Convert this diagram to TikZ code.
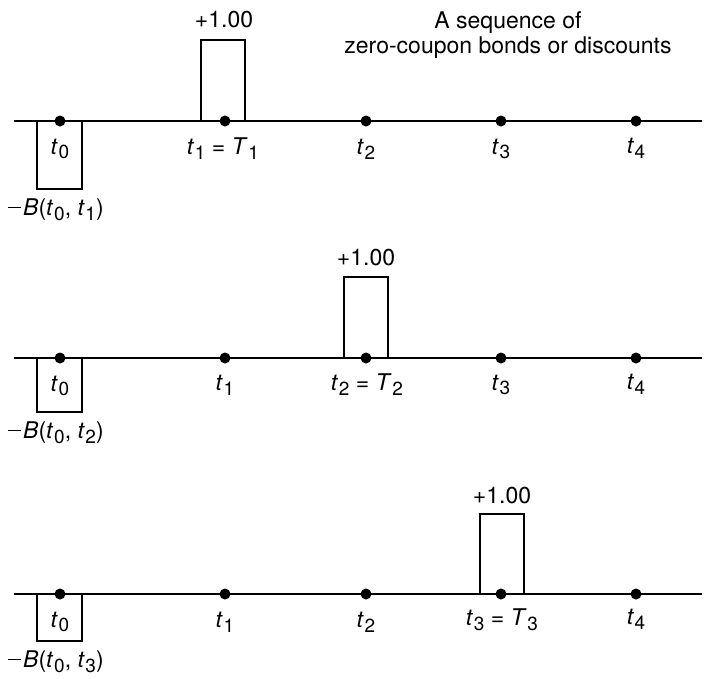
\documentclass[tikz,border=0pt]{standalone}
\usepackage{fontspec}
\setmainfont{TeX Gyre Heros}
\newcommand\tv[2]{\textit{#1}\kern0.03em\raisebox{-0.4ex}{\fontsize{19}{19}\selectfont #2}}
\newcommand\negsign{\rule[0.32em]{0.55em}{0.06em}\kern0.1em}
\begin{document}
\begin{tikzpicture}[x=1pt,y=-1pt,
  axis/.style={line width=1.6pt},
  flow/.style={line width=1.8pt},
  dot/.style={circle,fill=black,inner sep=0pt,minimum size=11pt},
  lbl/.style={font=\fontsize{23}{25.5}\selectfont,inner sep=0pt,anchor=center}]
\useasboundingbox (0,0) rectangle (708,678);
% title
\node[lbl,align=center] (title) at (508,35) {A sequence of\\zero-coupon bonds or discounts};
% rows: line y values
\foreach \r/\y/\d/\k in {1/121/68/1,2/358/54/2,3/594/47/3}{
  \coordinate (L\r) at (14,\y);
  \coordinate (R\r) at (702,\y);
  \draw[axis] (L\r) -- (R\r);
  \node[dot] (d\r0) at (60,\y) {};
  \node[dot] (d\r1) at (225,\y) {};
  \node[dot] (d\r2) at (366,\y) {};
  \node[dot] (d\r3) at (501,\y) {};
  \node[dot] (d\r4) at (636,\y) {};
  % negative box
  \draw[flow] (37,\y) -- (37,\y+\d) -- (82,\y+\d) -- (82,\y);
  \node[lbl] (neg\r) at (56,\y+\d+21) {\negsign\textit{B}(\tv{t}{0}, \tv{t}{\k})};
  \node[lbl] (l\r0) at (60,\y+28) {\tv{t}{0}};
}
% row 1
\draw[flow] (201,121) -- (201,40) -- (245,40) -- (245,121);
\node[lbl] (p1) at (224,20) {+1.00};
\node[lbl] (l11) at (223,149) {\tv{t}{1} = \tv{T}{1}};
\node[lbl] (l12) at (366,149) {\tv{t}{2}};
\node[lbl] (l13) at (501,149) {\tv{t}{3}};
\node[lbl] (l14) at (636,148) {\tv{t}{4}};
% row 2
\draw[flow] (344,358) -- (344,277) -- (388,277) -- (388,358);
\node[lbl] (p2) at (366,258) {+1.00};
\node[lbl] (l21) at (225,385) {\tv{t}{1}};
\node[lbl] (l22) at (367,385) {\tv{t}{2} = \tv{T}{2}};
\node[lbl] (l23) at (501,385) {\tv{t}{3}};
\node[lbl] (l24) at (636,384) {\tv{t}{4}};
% row 3
\draw[flow] (480,594) -- (480,514) -- (524,514) -- (524,594);
\node[lbl] (p3) at (502,496) {+1.00};
\node[lbl] (l31) at (225,622) {\tv{t}{1}};
\node[lbl] (l32) at (366,622) {\tv{t}{2}};
\node[lbl] (l33) at (502,620) {\tv{t}{3} = \tv{T}{3}};
\node[lbl] (l34) at (636,619) {\tv{t}{4}};
\end{tikzpicture}
\end{document}
